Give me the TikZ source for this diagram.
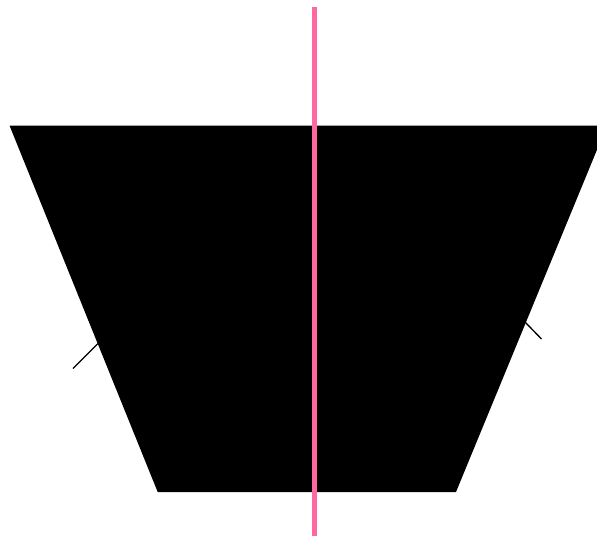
\documentclass[tikz,border=0pt]{standalone}
\definecolor{axispink}{RGB}{255,104,160}
\begin{document}
\begin{tikzpicture}[x=0.75pt,y=-0.75pt,
  tick/.style={black,line width=1pt},
  axisline/.style={axispink,line width=3.8pt}]
\useasboundingbox (0,0) rectangle (597,536);
\clip (0,0) rectangle (597,536);
\coordinate (tl) at (9.5,125.5);
\coordinate (tr) at (607,125.5);
\coordinate (br) at (456,492);
\coordinate (bl) at (157.7,492);
\fill[black] (tl) -- (tr) -- (br) -- (bl) -- cycle;
\coordinate (la) at (98,343.5);
\coordinate (lb) at (73,368.5);
\draw[tick] (la) -- (lb);
\coordinate (ra) at (525,322);
\coordinate (rb) at (541.5,339);
\draw[tick] (ra) -- (rb);
\coordinate (pt) at (314.7,6.5);
\coordinate (pb) at (314.7,536);
\draw[axisline] (pt) -- (pb);
\end{tikzpicture}
\end{document}
